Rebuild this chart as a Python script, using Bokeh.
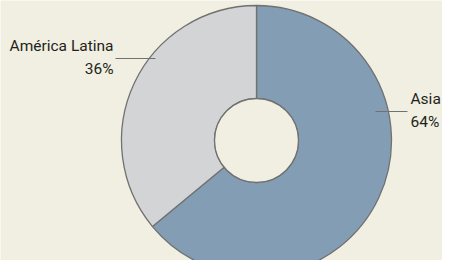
from math import pi
from bokeh.plotting import figure
from bokeh.models import Range1d, ColumnDataSource
from bokeh.core.properties import value
from bokeh.embed import file_html
from bokeh.resources import INLINE

# data
categories = ["Asia", "América Latina"]
shares = [64, 36]
labels = ["Asia\n64%", "América Latina\n36%"]
colors = ["#839db4", "#d3d4d6"]

BG = "#f1efe1"
W, H = 442, 260
# data coordinates = reference pixel coords (x right, y up from image bottom at 276)
p = figure(width=W, height=H, output_backend="svg", toolbar_location=None,
           x_range=Range1d(8, 8 + W), y_range=Range1d(276 - 8 - H, 276 - 8),
           min_border=0, background_fill_color=BG, border_fill_color=BG,
           outline_line_color=None)
p.axis.visible = False
p.grid.visible = False

cx, cy = 264, 276 - 148
r_out, r_in = 135, 42

total = sum(shares)
starts, ends = [], []
a = pi / 2
for s in shares:
    starts.append(a)
    a = a - 2 * pi * s / total
    ends.append(a)

src = ColumnDataSource(dict(start=starts, end=ends, color=colors, cat=categories))
p.annular_wedge(x=cx, y=cy, inner_radius=r_in, outer_radius=r_out,
                start_angle="start", end_angle="end", direction="clock",
                fill_color="color", line_color="#717171", line_width=1.3, source=src)
p.circle(x=cx, y=cy, radius=r_in, fill_color=BG, line_color="#717171", line_width=1.3)

# leader lines
p.segment(x0=[383, 123], y0=[276 - 119, 276 - 66], x1=[415, 163], y1=[276 - 119, 276 - 66],
          line_color="#717171", line_width=1.2)

font = value("Roboto")
p.text(x=[418], y=[276 - 118], text=[labels[0]], text_align="left", text_baseline="middle",
       text_font=font, text_font_size="15.5px", text_color="#231f20", text_line_height=1.3)
p.text(x=[121], y=[276 - 65], text=[labels[1]], text_align="right", text_baseline="middle",
       text_font=font, text_font_size="15.5px", text_color="#231f20", text_line_height=1.3)

open("out.html", "w").write(file_html(p, INLINE))
